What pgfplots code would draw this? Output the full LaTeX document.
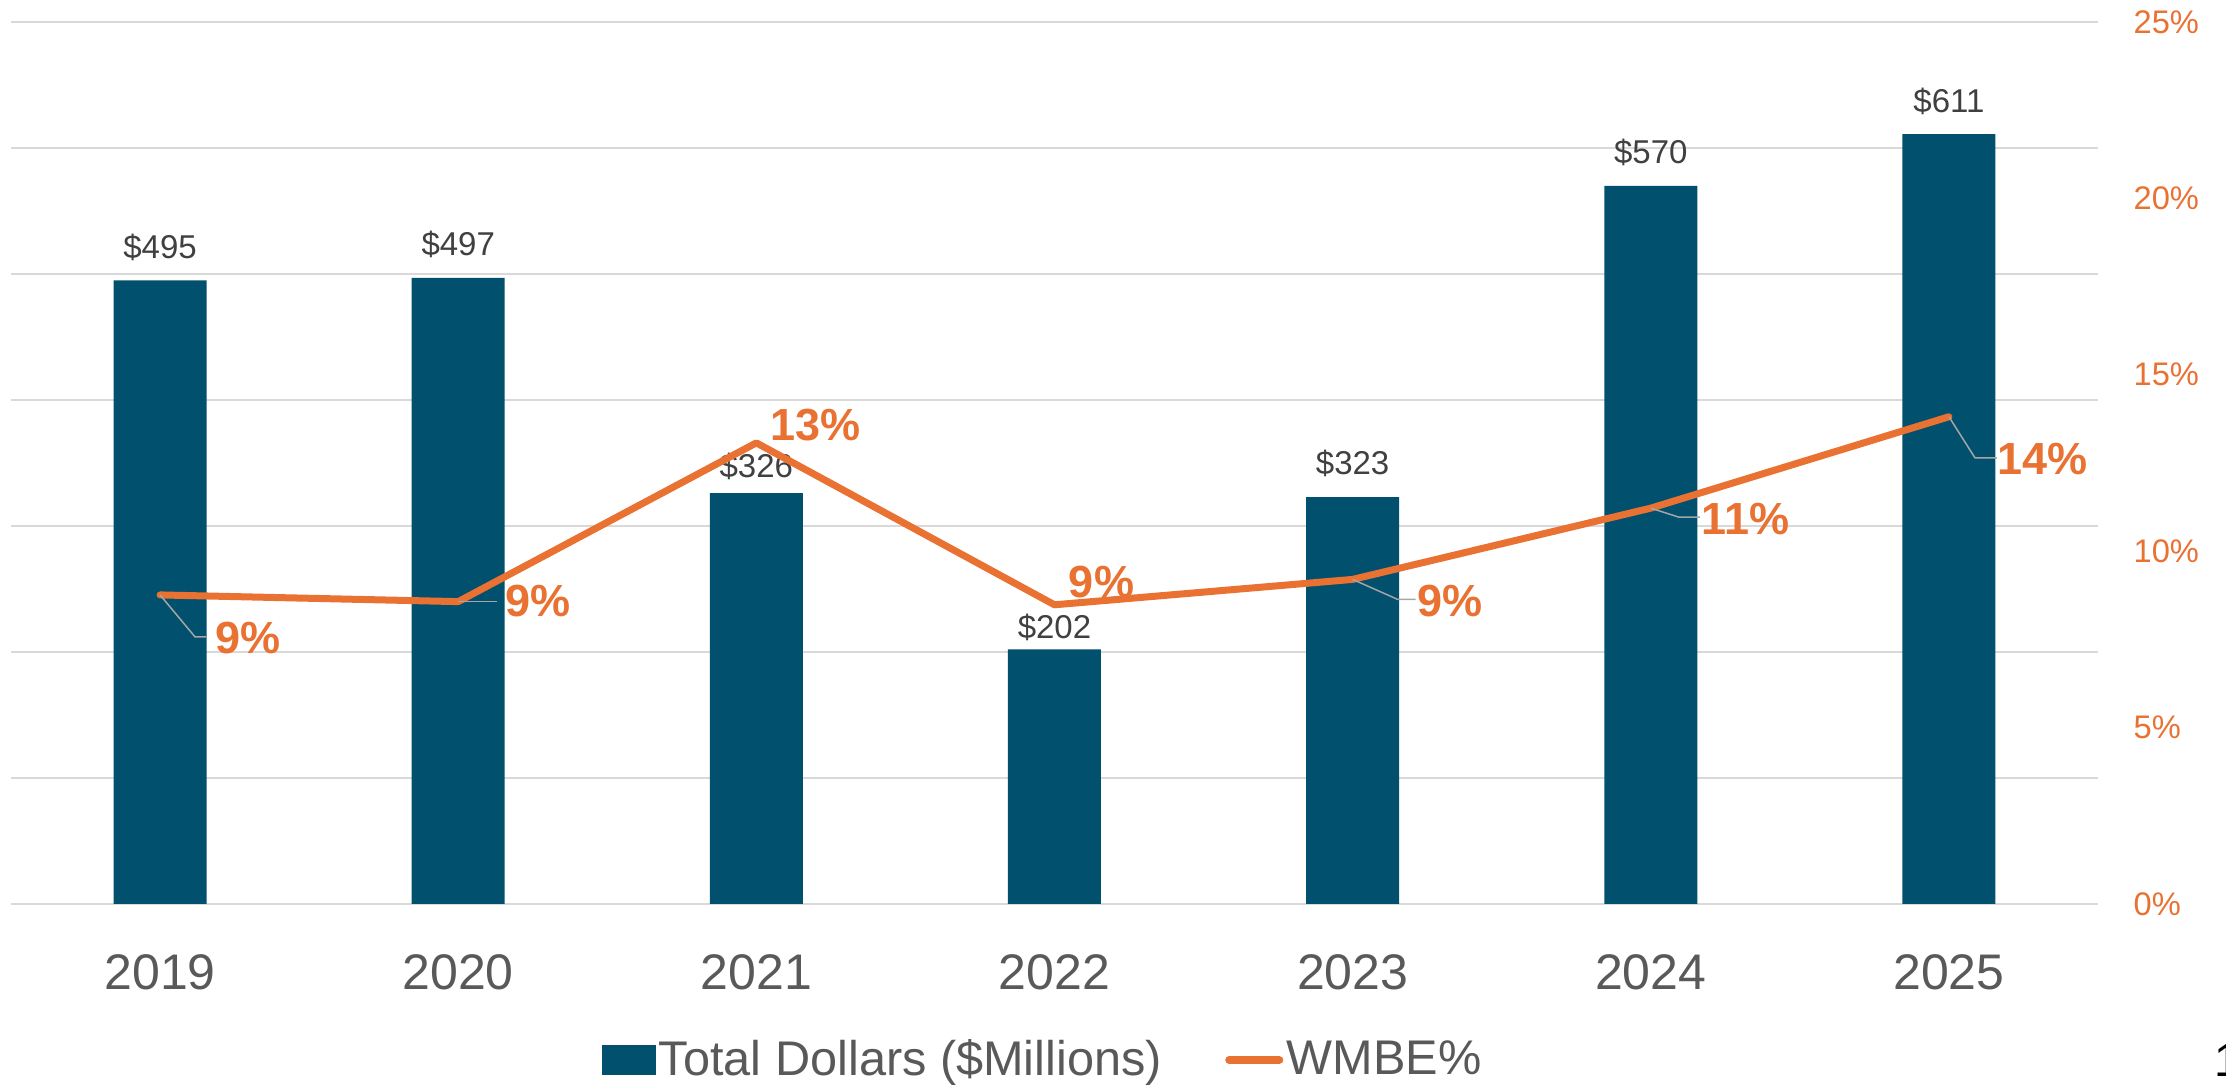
\documentclass[border=0pt]{standalone}
\usepackage{pgfplots}
\pgfplotsset{compat=1.18}
\usepackage{pgfplotstable}
\usepackage{fontspec}
\setmainfont{Liberation Sans}
\definecolor{barblue}{HTML}{00506E}
\definecolor{worange}{HTML}{E97132}
\definecolor{lblc}{HTML}{404040}
\definecolor{axgray}{HTML}{595959}
\definecolor{gridc}{HTML}{D9D9D9}
\definecolor{leadc}{HTML}{A6A6A6}

\pgfplotstableread{
x val off
0 495 6.6
1 497 6.6
2 326 4.8
3 202 3.2
4 323 6.8
5 570 6.6
6 611 6.6
}\bars

\pgfplotstableread{
x pct lab dx dy
0 8.76 9 26.4 -12.9
1 8.57 9 24.0 0.3
2 13.07 13 17.7 5.4
3 8.48 9 14.1 6.9
4 9.20 9 29.1 -6.6
5 11.22 11 28.5 -3.3
6 13.81 14 28.2 -12.6
}\wmbe

\begin{document}
\begin{tikzpicture}
\path[use as bounding box] (0,0) rectangle (667.8pt,325.5pt);
\begin{axis}[
  at={(3.3pt,54.3pt)}, anchor=south west,
  scale only axis, width=626.1pt, height=264.6pt,
  xmin=-0.5, xmax=6.5, ymin=0, ymax=700,
  xtick={0,1,2,3,4,5,6},
  xticklabels={2019,2020,2021,2022,2023,2024,2025},
  ytick={0,100,...,700}, yticklabels={},
  ymajorgrids, grid style={gridc, line width=0.45pt},
  axis line style={draw=none}, major tick length=0pt,
  xticklabel style={font=\fontsize{15}{18}\selectfont, text=axgray, anchor=center, yshift=-20.4pt},
]
\addplot[ybar, bar width=27.9pt, fill=barblue, draw=none,
  point meta=explicit symbolic,
  visualization depends on={\thisrow{off}\as\off},
  nodes near coords={\$\pgfplotspointmeta},
  every node near coord/.append style={anchor=base, yshift=\off pt, font=\fontsize{9.9}{12}\selectfont, text=lblc}
] table[x=x,y=val,meta=val]{\bars};
\end{axis}
\begin{axis}[
  at={(3.3pt,54.3pt)}, anchor=south west,
  scale only axis, width=626.1pt, height=264.6pt,
  xmin=-0.5, xmax=6.5, ymin=0, ymax=25,
  axis y line*=right, hide x axis,
  ytick={0,5,...,25}, yticklabels={0\%,5\%,10\%,15\%,20\%,25\%},
  yticklabel style={font=\fontsize{9.8}{12}\selectfont, text=worange, anchor=west, inner sep=0pt, xshift=10.5pt},
  axis line style={draw=none}, major tick length=0pt,
  legend columns=2,
  legend style={at={(0.4947,-0.1769)}, anchor=center, draw=none, fill=none,
    font=\fontsize{14.6}{17}\selectfont, text=axgray,
    nodes={inner sep=1pt},
    /tikz/every even column/.append style={column sep=18pt}},
]
\addlegendimage{legend image code/.code={\fill[barblue] (0pt,-4.35pt) rectangle (15.6pt,4.35pt);}}
\addlegendentry{Total Dollars (\$Millions)}
\addplot[worange, line width=2.1pt, line join=round, line cap=round,
  legend image code/.code={\draw[worange, line width=2.4pt, line cap=round] (1.2pt,0pt) -- (16.2pt,0pt);},
  point meta=explicit symbolic,
  visualization depends on={\thisrow{dx}\as\dx},
  visualization depends on={\thisrow{dy}\as\dy},
  nodes near coords={\pgfplotspointmeta\%},
  every node near coord/.append style={anchor=center, xshift=\dx pt, yshift=\dy pt, font=\bfseries\fontsize{13.5}{16}\selectfont, text=worange}
] table[x=x,y=pct,meta=lab]{\wmbe};
\addlegendentry{WMBE\%}
\draw[leadc, line width=0.45pt] (axis cs:0,8.76) -- ++(10.5pt,-12.6pt) -- ++(3.3pt,0pt);
\draw[leadc, line width=0.45pt] (axis cs:1,8.57) -- ++(11.7pt,0pt);
\draw[leadc, line width=0.45pt] (axis cs:4,9.20) -- ++(13.5pt,-6pt) -- ++(5.4pt,0pt);
\draw[leadc, line width=0.45pt] (axis cs:5,11.22) -- ++(8.4pt,-2.7pt) -- ++(6.3pt,0pt);
\draw[leadc, line width=0.45pt] (axis cs:6,13.81) -- ++(7.8pt,-12.3pt) -- ++(6.6pt,0pt);
\end{axis}
\node[anchor=base west, font=\fontsize{14}{17}\selectfont, inner sep=0pt] at (664.2pt,2.4pt) {1};
\end{tikzpicture}
\end{document}
